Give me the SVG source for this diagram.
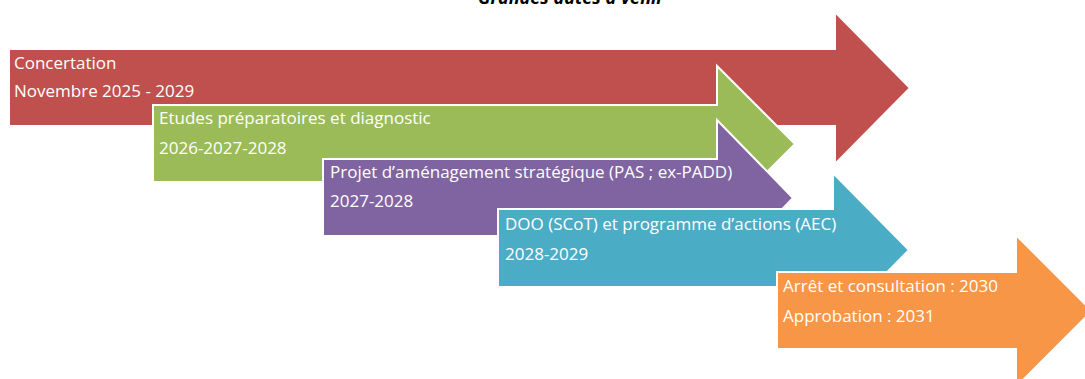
<svg xmlns="http://www.w3.org/2000/svg" width="1085" height="379" viewBox="0 0 1085 379">
<style>
.arrow{stroke:#ffffff;stroke-width:2;stroke-linejoin:miter}
.t{font-family:"Open Sans","Liberation Sans",sans-serif;font-size:17px;fill:#ffffff}
.title{font-family:"Open Sans","Liberation Sans",sans-serif;font-size:18px;font-weight:bold;font-style:italic;fill:#000000}
</style>
<rect width="1085" height="379" fill="#ffffff"/>
<text class="title" x="571" y="4" text-anchor="middle">Grandes dates à venir</text>
<g id="concertation">
<polygon class="arrow" fill="#C0504D" points="9,49 835,49 835,12 910,88 835,164 835,126 9,126"/>
<text class="t" x="14" y="69">Concertation</text>
<text class="t" x="14" y="97">Novembre 2025 - 2029</text>
</g>
<g id="etudes">
<polygon class="arrow" fill="#9BBB59" points="153,105 717,105 717,66 795,144 717,222 717,182 153,182"/>
<text class="t" x="159" y="124">Etudes préparatoires et diagnostic</text>
<text class="t" x="159" y="154">2026-2027-2028</text>
</g>
<g id="pas">
<polygon class="arrow" fill="#8064A2" points="323,159 717,159 717,120 793,198 717,276 717,236 323,236"/>
<text class="t" x="330" y="178">Projet d’aménagement stratégique (PAS ; ex-PADD)</text>
<text class="t" x="330" y="207">2027-2028</text>
</g>
<g id="doo">
<polygon class="arrow" fill="#4BACC6" points="498,209 833,209 833,173 909,250 833,327 833,287 498,287"/>
<text class="t" x="505" y="230">DOO (SCoT) et programme d’actions (AEC)</text>
<text class="t" x="505" y="260">2028-2029</text>
</g>
<g id="arret">
<polygon class="arrow" fill="#F79646" points="777,272 1016,272 1016,235 1092,311 1016,387 1016,349 777,349"/>
<text class="t" x="783" y="292">Arrêt et consultation : 2030</text>
<text class="t" x="783" y="322">Approbation : 2031</text>
</g>
<g id="connectors"/>
</svg>
